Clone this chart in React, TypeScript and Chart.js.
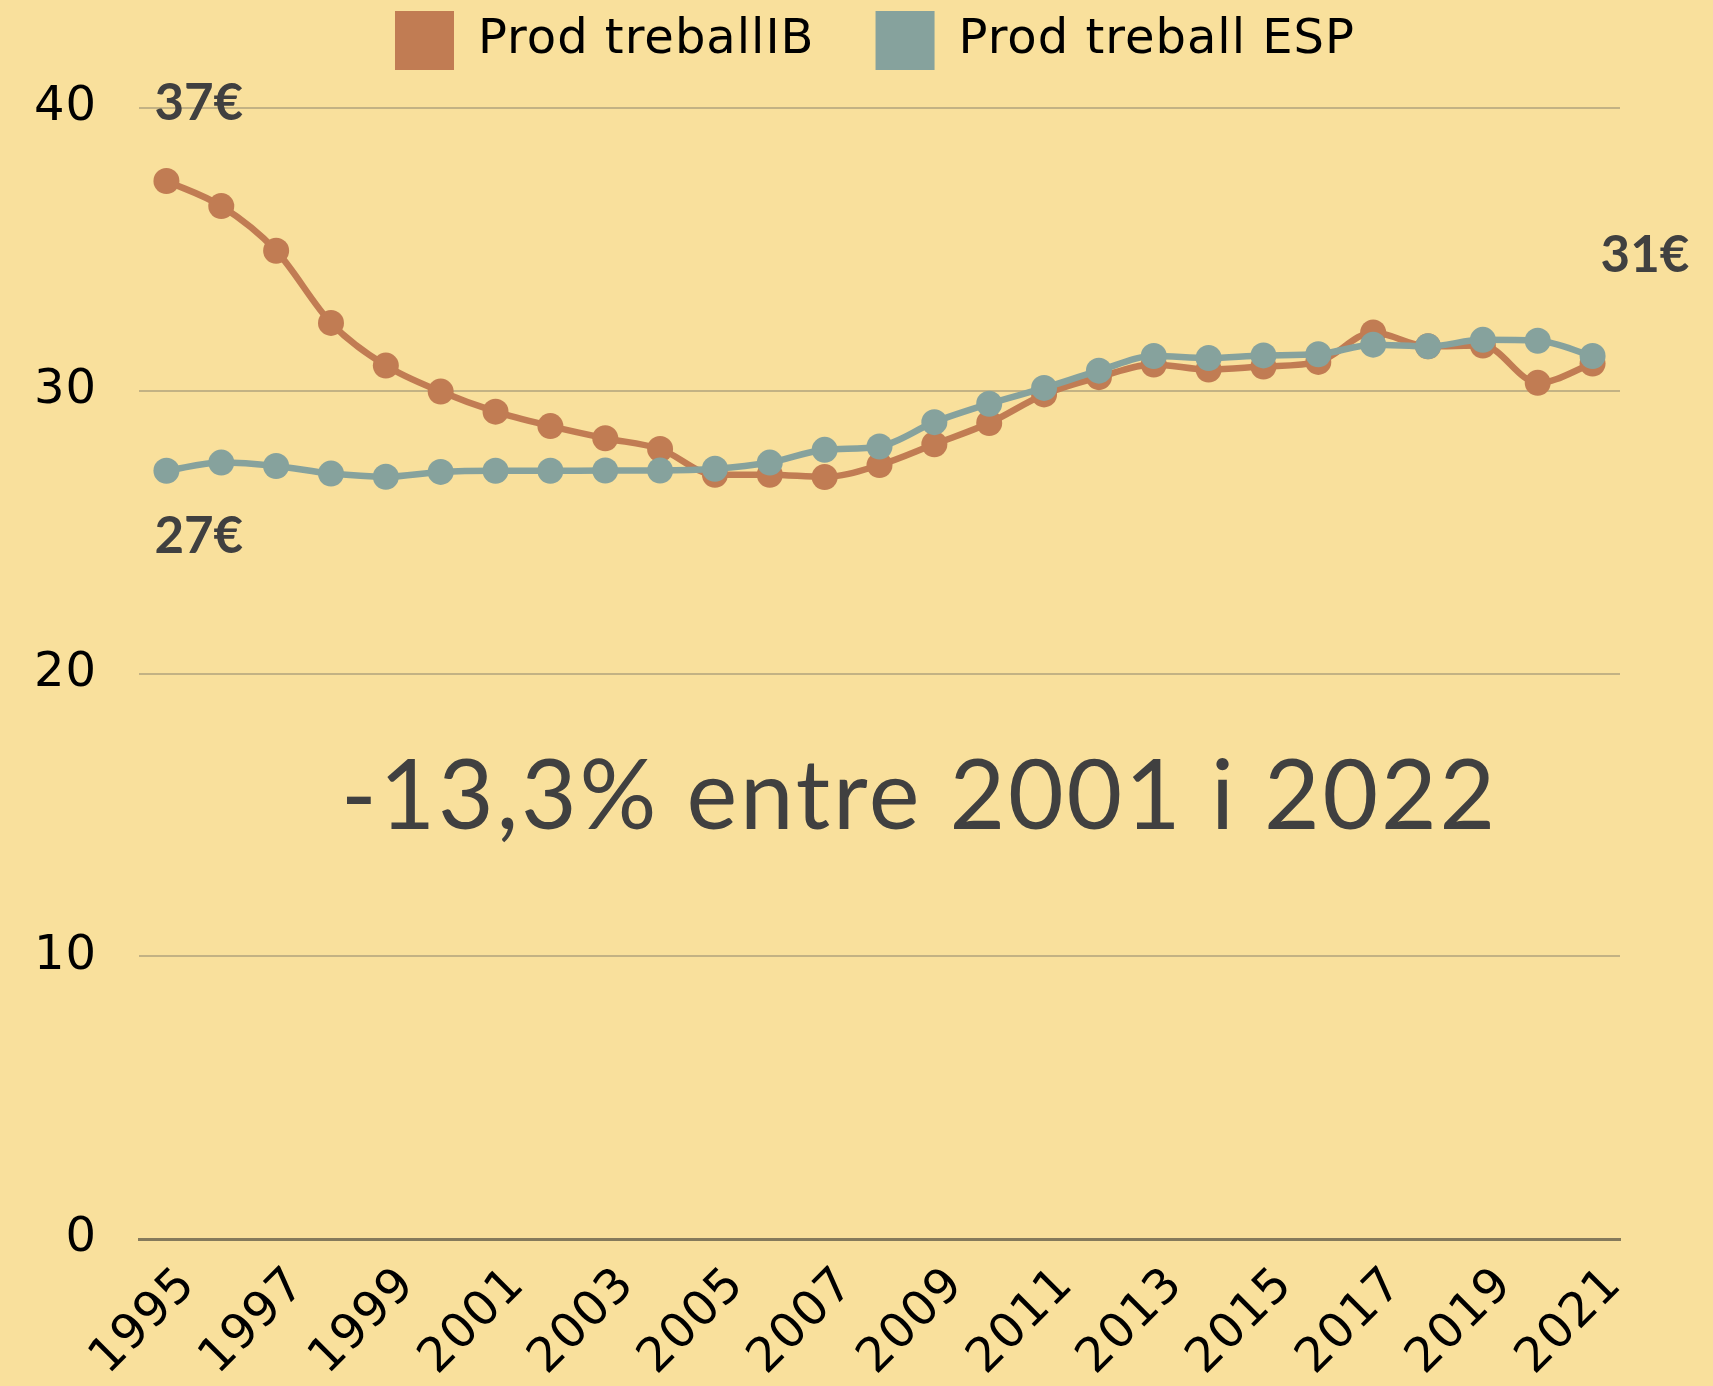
import React, { useEffect, useRef } from 'react';
import { Chart, registerables } from 'chart.js';

Chart.register(...registerables);

const years: string[] = [
  '1995', '1996', '1997', '1998', '1999', '2000', '2001', '2002', '2003',
  '2004', '2005', '2006', '2007', '2008', '2009', '2010', '2011', '2012',
  '2013', '2014', '2015', '2016', '2017', '2018', '2019', '2020', '2021',
];

const prodIB: number[] = [
  37.42, 36.53, 34.95, 32.4, 30.89, 29.97, 29.26, 28.75, 28.32,
  27.94, 27.03, 27.03, 26.95, 27.37, 28.11, 28.86, 29.87, 30.48,
  30.93, 30.75, 30.86, 31.02, 32.06, 31.57, 31.6, 30.28, 30.96,
];

const prodESP: number[] = [
  27.17, 27.46, 27.34, 27.07, 26.96, 27.13, 27.17, 27.17, 27.18,
  27.18, 27.24, 27.46, 27.91, 28.03, 28.89, 29.54, 30.1, 30.71,
  31.23, 31.16, 31.25, 31.29, 31.63, 31.57, 31.8, 31.77, 31.23,
];

const seriesNames: string[] = ['Prod treballIB', 'Prod treball ESP'];
const yMin = 0;
const yMax = 40;
const yStep = 10;

const labelIBStart = '37€';
const labelESPStart = '27€';
const labelEnd = '31€';
const headline = '-13,3% entre 2001 i 2022';

const COLOR_IB = '#C17C53';
const COLOR_ESP = '#86A29D';
const BG = '#F9E09C';
const TEXT_DARK = '#404040';
const FONT = 'Lato, "Open Sans", sans-serif';
const AXIS_FONT = '"DejaVu Sans", sans-serif';
const AXIS_SIZE = 48;

export default function App() {
  const ref = useRef<HTMLCanvasElement | null>(null);

  useEffect(() => {
    document.body.style.margin = '0';
    document.body.style.background = BG;
    const canvas = ref.current;
    if (!canvas) return;

    const legendFit = {
      id: 'legendFit',
      beforeInit(chart: any) {
        const legend = chart.legend;
        if (!legend) return;
        const orig = legend.fit;
        legend.fit = function () {
          orig.call(this);
          this.height = 158;
        };
      },
      afterLayout(chart: any) {
        const legend = chart.legend;
        if (legend) {
          legend.left += 65;
          legend.right += 65;
        }
      },
    };

    const spacing = {
      id: 'spacing',
      beforeLayout(chart: any) {
        chart.ctx.letterSpacing = '1px';
      },
      beforeDraw(chart: any) {
        chart.ctx.letterSpacing = '1px';
      },
    };

    const bgPlugin = {
      id: 'bgPlugin',
      beforeDraw(chart: any) {
        const ctx = chart.ctx;
        ctx.save();
        ctx.fillStyle = BG;
        ctx.fillRect(0, 0, chart.width, chart.height);
        ctx.restore();
      },
    };

    const annotations = {
      id: 'annotations',
      afterDatasetsDraw(chart: any) {
        const { ctx, scales, chartArea } = chart;
        const x = scales.x;
        const y = scales.y;
        ctx.save();
        ctx.letterSpacing = '0px';
        ctx.fillStyle = TEXT_DARK;
        ctx.font = `bold 51px ${FONT}`;
        ctx.textBaseline = 'middle';
        ctx.textAlign = 'left';
        const x0 = x.getPixelForValue(0);
        const xN = x.getPixelForValue(years.length - 1);
        ctx.fillText(labelIBStart, x0 - 12, y.getPixelForValue(yMax) - 4);
        ctx.fillText(labelESPStart, x0 - 12, y.getPixelForValue(prodESP[0]) + 66);
        ctx.fillText(labelEnd, xN + 8, y.getPixelForValue(prodESP[prodESP.length - 1]) - 100);

        ctx.letterSpacing = '2.8px';
        ctx.font = `400 96px ${FONT}`;
        ctx.textAlign = 'center';
        ctx.textBaseline = 'alphabetic';
        ctx.fillText(headline, (chartArea.left + chartArea.right) / 2 + 40, y.getPixelForValue(14.5));
        ctx.restore();
      },
    };

    const chart = new Chart(canvas, {
      type: 'line',
      data: {
        labels: years,
        datasets: [
          {
            label: seriesNames[0],
            data: prodIB,
            borderColor: COLOR_IB,
            backgroundColor: COLOR_IB,
            pointBackgroundColor: COLOR_IB,
            pointBorderWidth: 0,
            pointRadius: 13,
            borderWidth: 6.5,
            cubicInterpolationMode: 'monotone',
            order: 2,
          },
          {
            label: seriesNames[1],
            data: prodESP,
            borderColor: COLOR_ESP,
            backgroundColor: COLOR_ESP,
            pointBackgroundColor: COLOR_ESP,
            pointBorderWidth: 0,
            pointRadius: 13,
            borderWidth: 6.5,
            cubicInterpolationMode: 'monotone',
            order: 1,
          },
        ],
      },
      options: {
        responsive: false,
        animation: false,
        devicePixelRatio: 1,
        layout: { padding: { top: -50, left: 0, right: 93, bottom: 0 } },
        plugins: {
          legend: {
            display: true,
            position: 'top',
            labels: {
              boxWidth: 59,
              boxHeight: 59,
              padding: 61,
              color: '#000',
              font: { family: AXIS_FONT, size: AXIS_SIZE, weight: '400' },
              sort: (a: any, b: any) => a.datasetIndex - b.datasetIndex,
              generateLabels: (ch: any) => {
                const items = Chart.defaults.plugins.legend.labels.generateLabels(ch);
                return items.map((it: any) => ({ ...it, lineWidth: 0, strokeStyle: it.fillStyle }));
              },
            },
          },
          tooltip: { enabled: false },
        },
        scales: {
          x: {
            offset: true,
            grid: { display: false, drawTicks: false },
            border: { display: true, color: '#857A5B', width: 3 },
            ticks: {
              autoSkip: false,
              maxRotation: 45,
              minRotation: 45,
              padding: 18,
              labelOffset: 22,
              color: '#000',
              font: { family: AXIS_FONT, size: AXIS_SIZE, weight: '400' },
              callback: (_v: any, i: number) => (i % 2 === 0 ? years[i] : ''),
            },
            afterFit(scale: any) {
              scale.height = 147;
            },
          },
          y: {
            min: yMin,
            max: yMax,
            grid: {
              drawTicks: false,
              color: (c: any) => (c.tick && c.tick.value === 0 ? '#857A5B' : '#C3B284'),
              lineWidth: (c: any) => (c.tick && c.tick.value === 0 ? 3 : 2),
            },
            border: { display: false },
            ticks: {
              stepSize: yStep,
              padding: 42,
              color: '#000',
              font: { family: AXIS_FONT, size: AXIS_SIZE, weight: '400' },
            },
            afterFit(scale: any) {
              scale.width = 139;
            },
          },
        },
      },
      plugins: [bgPlugin, spacing, legendFit, annotations],
    } as any);

    return () => {
      chart.destroy();
    };
  }, []);

  return (
    <div style={{ position: 'absolute', left: 0, top: 0, width: 1713, height: 1386, background: BG }}>
      <canvas ref={ref} width={1713} height={1386} style={{ display: 'block' }} />
    </div>
  );
}
